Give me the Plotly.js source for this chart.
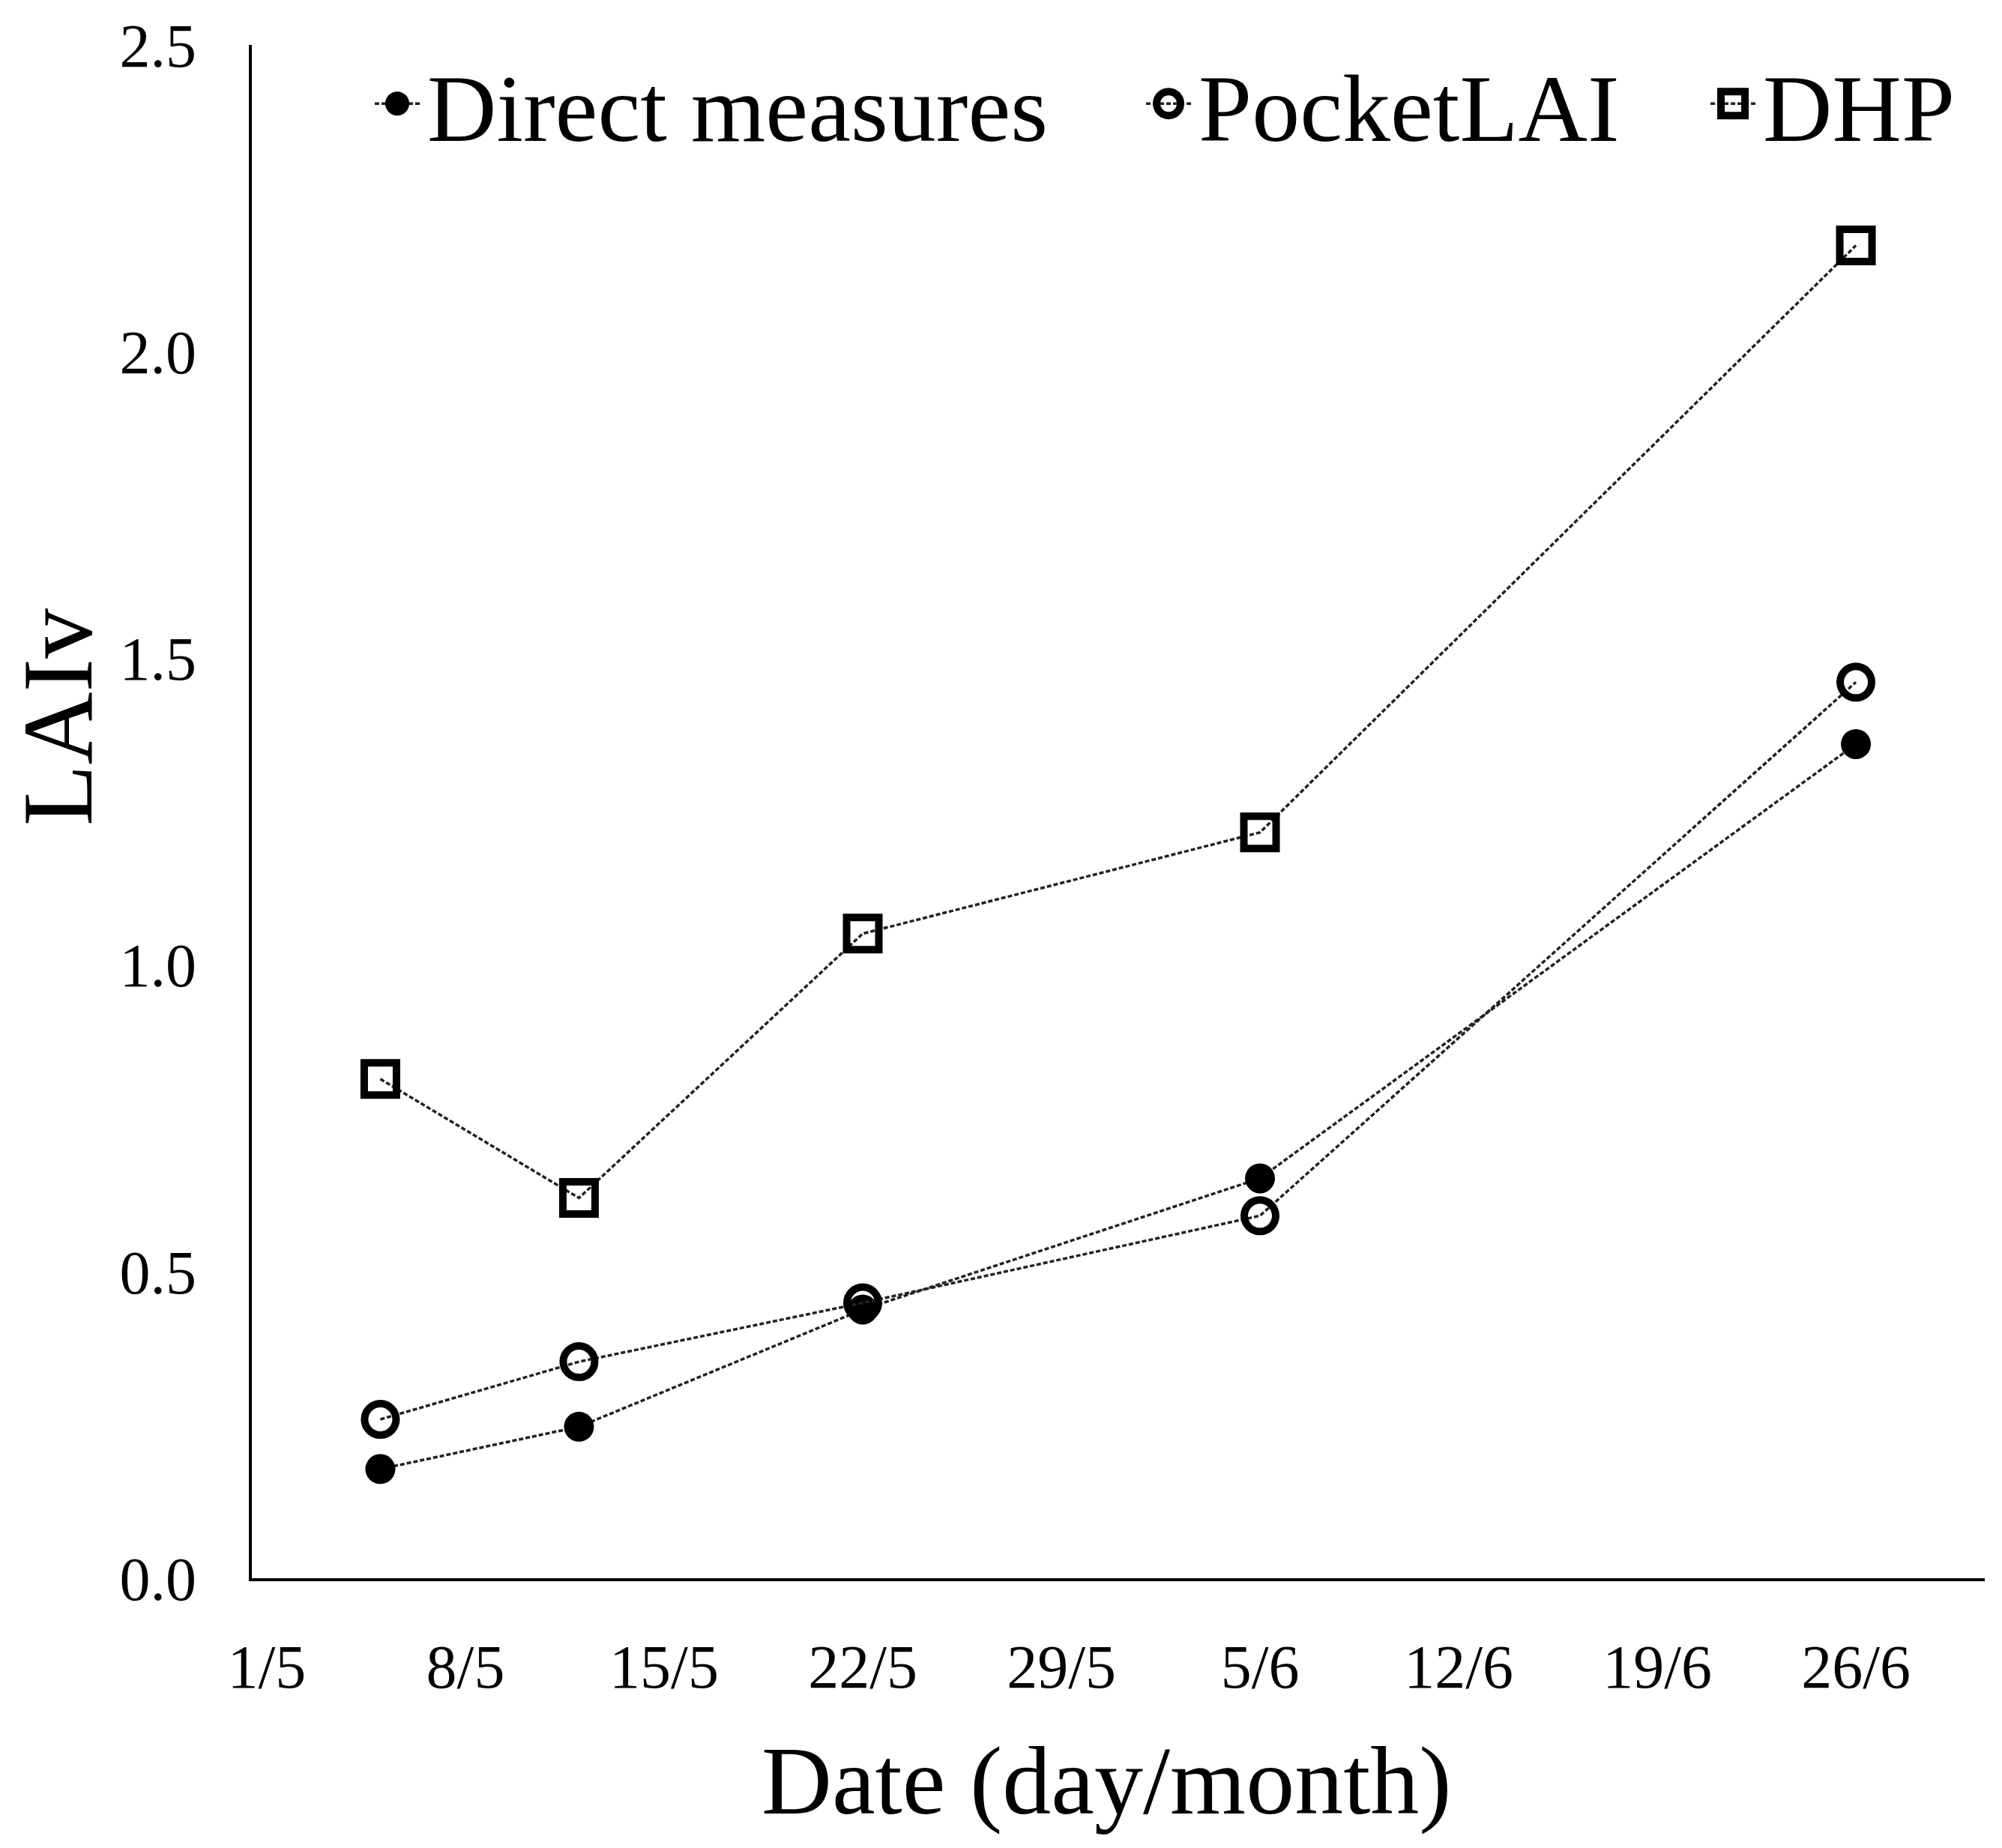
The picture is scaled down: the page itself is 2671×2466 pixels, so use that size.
<!DOCTYPE html>
<html>
<head>
<meta charset="utf-8">
<script src="https://cdn.plot.ly/plotly-3.0.1.min.js"></script>
<style>
  html, body { margin: 0; padding: 0; background: #fff; width: 2671px; height: 2466px; }
  #wrap { width: 2671px; height: 2466px; position: relative; }
  /* drawn at half size, then doubled, so legend symbols keep their size */
  #chart { position: absolute; left: 0; top: 0; width: 1335.5px; height: 1233px; transform: scale(2); transform-origin: 0 0; }
</style>
</head>
<body>
<div id="wrap"><div id="chart"></div></div>
<script>
// sampling dates (day/month)
var dates = ['2015-05-05', '2015-05-12', '2015-05-22', '2015-06-05', '2015-06-26'];

// LAIv per method
var directValues = [0.178, 0.247, 0.438, 0.652, 1.360];
var pocketValues = [0.259, 0.353, 0.449, 0.591, 1.461];
var dhpValues = [0.814, 0.620, 1.051, 1.216, 2.173];

var seriesNames = ['Direct measures', 'PocketLAI', 'DHP'];

// x axis ticks
var tickDates = ['2015-05-01', '2015-05-08', '2015-05-15', '2015-05-22', '2015-05-29',
                 '2015-06-05', '2015-06-12', '2015-06-19', '2015-06-26'];
var tickLabels = ['1/5', '8/5', '15/5', '22/5', '29/5', '5/6', '12/6', '19/6', '26/6'];

var serif = 'Liberation Serif, Times New Roman, serif';
var lineStyle = { color: '#222', width: 1.75, dash: '3px,1.5px' };

var directTrace = {
    type: 'scatter', mode: 'lines+markers', name: seriesNames[0],
    x: dates, y: directValues, legend: 'legend',
    line: lineStyle,
    marker: { symbol: 'circle', size: 20, color: '#000' }
};
var pocketTrace = {
    type: 'scatter', mode: 'lines+markers', name: seriesNames[1],
    x: dates, y: pocketValues, legend: 'legend2',
    line: lineStyle,
    marker: { symbol: 'circle-open', size: 21, color: '#000', line: { color: '#000', width: 5 } }
};
var dhpTrace = {
    type: 'scatter', mode: 'lines+markers', name: seriesNames[2],
    x: dates, y: dhpValues, legend: 'legend3',
    line: lineStyle,
    marker: { symbol: 'square-open', size: 21.5, color: '#000', line: { color: '#000', width: 5 } }
};

function legendAt(xPos) {
    return {
        x: xPos, y: 0.9614, xanchor: 'left', yanchor: 'middle',
        orientation: 'h', bgcolor: 'rgba(0,0,0,0)', borderwidth: 0,
        font: { family: serif, size: 64, color: '#000' }
    };
}

var layout = {
    width: 1335.5,
    height: 1233,
    paper_bgcolor: '#fff',
    plot_bgcolor: '#fff',
    margin: { l: 168, r: 11.5, t: 29.5, b: 179.5, pad: 0 },
    font: { family: serif, color: '#000' },
    showlegend: true,
    legend: legendAt(0.0666),
    legend2: legendAt(0.5117),
    legend3: legendAt(0.8374),
    xaxis: {
        type: 'date',
        range: ['2015-04-30 11:20', '2015-06-30 13:00'],
        tickmode: 'array',
        tickvals: tickDates,
        ticktext: tickLabels,
        ticks: '',
        ticklabelstandoff: 22,
        showgrid: false,
        zeroline: false,
        showline: true,
        linecolor: '#000',
        linewidth: 1.5,
        tickfont: { family: serif, size: 41, color: '#000' },
        automargin: false
    },
    yaxis: {
        range: [0, 2.5],
        dtick: 0.5,
        tick0: 0,
        tickformat: '.1f',
        ticks: '',
        ticklabelstandoff: 27,
        showgrid: false,
        zeroline: false,
        showline: true,
        linecolor: '#000',
        linewidth: 1.5,
        tickfont: { family: serif, size: 41, color: '#000' },
        automargin: false
    },
    // axis titles sit off-centre in the original, so they are placed by hand
    annotations: [{
        text: 'LAIv', textangle: -90, showarrow: false,
        xref: 'paper', yref: 'paper', x: -0.1125, y: 0.562,
        xanchor: 'center', yanchor: 'middle',
        font: { family: serif, size: 67, color: '#000' }
    }, {
        text: 'Date (day/month)', showarrow: false,
        xref: 'paper', yref: 'paper', x: 0.4927, y: -0.1323,
        xanchor: 'center', yanchor: 'middle',
        font: { family: serif, size: 65, color: '#000' }
    }]
};

Plotly.newPlot('chart', [directTrace, pocketTrace, dhpTrace], layout, { displayModeBar: false, responsive: false });
</script>
</body>
</html>
